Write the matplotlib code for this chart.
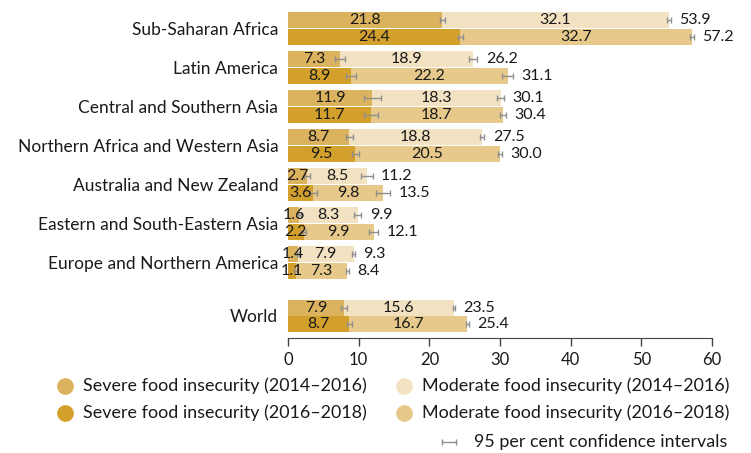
import numpy as np
import matplotlib.pyplot as plt
from matplotlib.lines import Line2D

plt.rcParams['font.family'] = ['Lato', 'DejaVu Sans']

regions = ['Sub-Saharan Africa', 'Latin America', 'Central and Southern Asia',
           'Northern Africa and Western Asia', 'Australia and New Zealand',
           'Eastern and South-Eastern Asia', 'Europe and Northern America', 'World']

# 2014-2016
severe_1416 = [21.8, 7.3, 11.9, 8.7, 2.7, 1.6, 1.4, 7.9]
moderate_1416 = [32.1, 18.9, 18.3, 18.8, 8.5, 8.3, 7.9, 15.6]
total_1416 = [53.9, 26.2, 30.1, 27.5, 11.2, 9.9, 9.3, 23.5]
# 2016-2018
severe_1618 = [24.4, 8.9, 11.7, 9.5, 3.6, 2.2, 1.1, 8.7]
moderate_1618 = [32.7, 22.2, 18.7, 20.5, 9.8, 9.9, 7.3, 16.7]
total_1618 = [57.2, 31.1, 30.4, 30.0, 13.5, 12.1, 8.4, 25.4]

# half-widths of the 95% confidence intervals (estimated)
ci_sev_1416 = [0.35, 0.7, 1.2, 0.5, 0.4, 0.2, 0.1, 0.4]
ci_tot_1416 = [0.25, 0.6, 0.5, 0.3, 0.8, 0.5, 0.2, 0.1]
ci_sev_1618 = [0.4, 0.7, 1.0, 0.5, 0.5, 0.3, 0.2, 0.3]
ci_tot_1618 = [0.25, 0.8, 0.4, 0.3, 1.0, 0.65, 0.2, 0.25]

c_sev1 = '#dbb25e'
c_mod1 = '#f2e2c2'
c_sev2 = '#d4a02c'
c_mod2 = '#e6c98b'
c_err = '#8f8f8f'
c_txt = '#1a1a1a'

ypos = np.array([0, 1, 2, 3, 4, 5, 6, 7.37])
h = 0.41
off = 0.215

W, H = 751, 453
fig = plt.figure(figsize=(7.51, 4.53), dpi=100)
ax = fig.add_axes([288 / W, 1 - 338 / H, 424 / W, 330 / H])

rows = [
    (ypos - off, severe_1416, moderate_1416, total_1416, ci_sev_1416, ci_tot_1416, c_sev1, c_mod1),
    (ypos + off, severe_1618, moderate_1618, total_1618, ci_sev_1618, ci_tot_1618, c_sev2, c_mod2),
]
for y, sev, mod, tot, esev, etot, cs, cm in rows:
    ax.barh(y, sev, height=h, color=cs, linewidth=0)
    ax.barh(y, mod, left=sev, height=h, color=cm, linewidth=0)
    ax.errorbar(sev, y, xerr=esev, fmt='none', ecolor=c_err, elinewidth=1, capsize=2.5, capthick=1)
    ax.errorbar(tot, y, xerr=etot, fmt='none', ecolor=c_err, elinewidth=1, capsize=2.5, capthick=1)
    for i in range(len(y)):
        ax.text(sev[i] / 2, y[i], f'{sev[i]:.1f}', ha='center', va='center', fontsize=11.5, color=c_txt)
        ax.text(sev[i] + mod[i] / 2, y[i], f'{mod[i]:.1f}', ha='center', va='center', fontsize=11.5, color=c_txt)
        ax.annotate(f'{tot[i]:.1f}', (tot[i] + etot[i], y[i]), xytext=(6, 0), textcoords='offset points',
                    ha='left', va='center', fontsize=11.5, color=c_txt)

ax.set_xlim(0, 60)
ax.set_ylim((338 - 28.5) / 39, -(28.5 - 8) / 39)
ax.set_xticks(range(0, 61, 10))
ax.set_yticks(ypos)
ax.set_yticklabels(regions, fontsize=12.5, color=c_txt)
ax.tick_params(axis='y', length=0, pad=7)
ax.tick_params(axis='x', length=6, width=1, color='#444444', labelsize=12, labelcolor=c_txt, pad=4)
for s in ['top', 'right', 'left']:
    ax.spines[s].set_visible(False)
ax.spines['bottom'].set_color('#444444')

# legend, laid out by hand in pixel positions
legend_items = [
    (65, 386, c_sev1, 'Severe food insecurity (2014\u20132016)'),
    (65, 413, c_sev2, 'Severe food insecurity (2016\u20132018)'),
    (404, 386, c_mod1, 'Moderate food insecurity (2014\u20132016)'),
    (404, 413, c_mod2, 'Moderate food insecurity (2016\u20132018)'),
]
for mx, my, col, lab in legend_items:
    fig.add_artist(Line2D([mx / W], [1 - my / H], transform=fig.transFigure, marker='o',
                          markersize=11, color=col, linestyle='none'))
    fig.text((mx + 18) / W, 1 - my / H, lab, ha='left', va='center', fontsize=12.9, color=c_txt)

fig.add_artist(Line2D([442 / W, 456 / W], [1 - 442 / H, 1 - 442 / H], transform=fig.transFigure,
                      color=c_err, linewidth=1, marker='|', markersize=5))
fig.text(474 / W, 1 - 442 / H, '95 per cent confidence intervals', ha='left', va='center',
         fontsize=12.9, color=c_txt)

fig.savefig('out.png', dpi=100)
